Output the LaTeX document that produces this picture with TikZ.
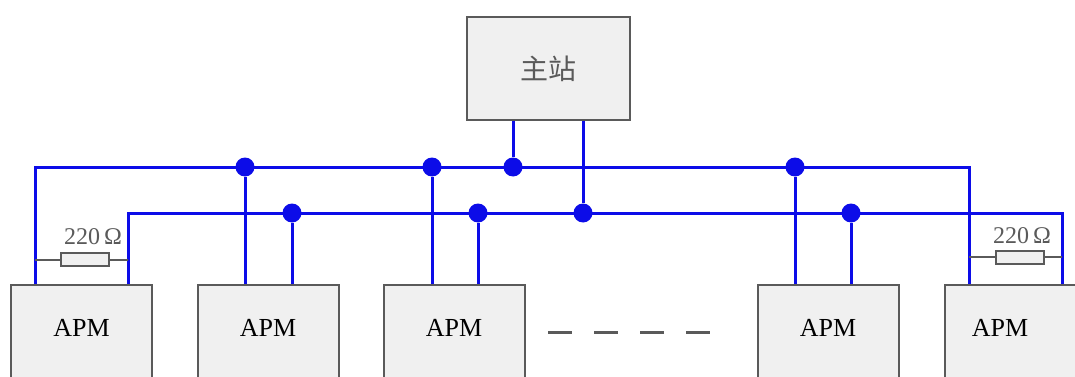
\documentclass[tikz,border=0pt]{standalone}
\usepackage{fontspec}
\setmainfont{Liberation Serif}
\newfontfamily\cjk{Noto Sans CJK SC}
\usetikzlibrary{positioning}
\definecolor{busblue}{RGB}{12,12,232}
\definecolor{boxfill}{RGB}{240,240,240}
\definecolor{boxline}{RGB}{90,90,90}
\tikzset{
x=1pt, y=-1pt, % one unit is one pixel of the layout
box/.style={draw=boxline, line width=2pt, fill=boxfill}, % common look of the boxes
apm/.style={box, minimum width=141pt, minimum height=110pt, text depth=24pt, font=\fontsize{26}{30}\selectfont}, % the field units
bus/.style={busblue, line width=3pt}, % the two bus wires
tap/.style={circle, fill=busblue, inner sep=0pt, minimum size=19pt}, % junction dots
resistor/.style={draw=boxline, line width=2pt, fill=boxfill, minimum width=48pt, minimum height=13pt, inner sep=0pt},
lead/.style={boxline, line width=2pt},
ohm/.style={text=boxline, font=\fontsize{24}{28}\selectfont},
}

\begin{document}
\begin{tikzpicture}

\useasboundingbox (0,0) rectangle (1075,377);
\clip (0,0) rectangle (1075,377);

\node[box, minimum width=163pt, minimum height=103pt, text=boxline, font=\cjk\fontsize{28}{32}\selectfont] at (548.5,68.5) (master) {主站};

\node[apm] at (81.5,340) (apm1) {APM};
\node[apm] at (268,340) (apm2) {APM};
\node[apm] at (454,340) (apm3) {APM};
\node[apm] at (828,340) (apm4) {APM};
\node[apm] at (1015,340) (apm5) {APM\hspace*{30pt}};

% bus corners
\coordinate (tl) at (35,167);
\coordinate (tr) at (969,167);
\coordinate (bl) at (128,213);
\coordinate (br) at (1062,213);

% junctions
\node[tap] at (245,167) (d1) {};
\node[tap] at (432,167) (d2) {};
\node[tap] at (513,167) (d3) {};
\node[tap] at (795,167) (d4) {};
\node[tap] at (292,213) (e1) {};
\node[tap] at (478,213) (e2) {};
\node[tap] at (583,213) (e3) {};
\node[tap] at (851,213) (e4) {};

\draw[bus] (apm1.north -| tl) -- (tl) -- (tr) -- (apm5.north -| tr);
\draw[bus] (apm1.north -| bl) -- (bl) -- (br) -- (apm5.north -| br);

\draw[bus] (master.south -| d3) -- (d3);
\draw[bus] (master.south -| e3) -- (e3);

\draw[bus] (d1) -- (d1 |- apm2.north);
\draw[bus] (e1) -- (e1 |- apm2.north);
\draw[bus] (d2) -- (d2 |- apm3.north);
\draw[bus] (e2) -- (e2 |- apm3.north);
\draw[bus] (d4) -- (d4 |- apm4.north);
\draw[bus] (e4) -- (e4 |- apm4.north);

% terminating resistors
\node[resistor] at (85,259.5) (r1) {};
\node[resistor] at (1020,257) (r2) {};
\draw[lead] (tl |- r1) -- (r1) -- (bl |- r1);
\draw[lead] (tr |- r2) -- (r2) -- (br |- r2);
\node[ohm] at (93,237) (r1label) {220\,Ω};
\node[ohm] at (1022,236) (r2label) {220\,Ω};

% more units
\coordinate (dotsl) at (548,332);
\coordinate (dotsr) at (710,332);
\draw[boxline, line width=3pt, dash pattern=on 24pt off 22pt] (dotsl) -- (dotsr);

\end{tikzpicture}
\end{document}
